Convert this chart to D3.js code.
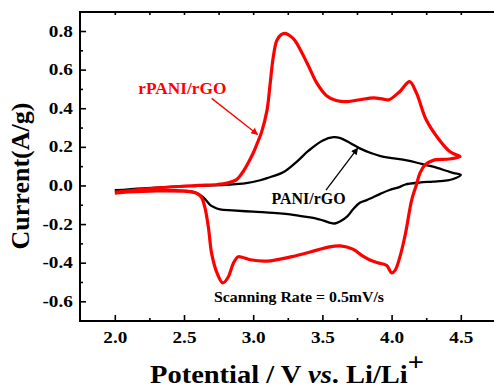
<!DOCTYPE html>
<html>
<head>
<meta charset="utf-8">
<script src="https://cdn.jsdelivr.net/npm/d3@7"></script>
<style>
  body { margin: 0; background: #fff; }
  text { font-family: "Liberation Serif", "Times New Roman", serif; font-weight: bold; }
</style>
</head>
<body>
<div id="chart"></div>
<script>
// rPANI/rGO loop: anodic sweep 2.0 -> 4.5 V, then cathodic back to 2.0 V
const rpaniV = [2.00, 2.20, 2.40, 2.60, 2.74, 2.81, 2.88, 2.93, 2.97, 3.00, 3.03, 3.06, 3.10, 3.12, 3.145, 3.17, 3.20, 3.23, 3.26, 3.30,
                3.39, 3.46, 3.53, 3.60, 3.68, 3.77, 3.87, 3.94, 3.98, 4.06, 4.13, 4.18, 4.25, 4.33, 4.42, 4.47, 4.495,
                4.42, 4.30, 4.24, 4.205, 4.18, 4.145, 4.10, 4.06, 4.025, 4.00, 3.965, 3.90, 3.84, 3.79, 3.72, 3.63, 3.55, 3.46,
                3.27, 3.10, 2.98, 2.92, 2.89, 2.856, 2.82, 2.78, 2.74, 2.70, 2.676, 2.65, 2.625, 2.59, 2.50, 2.30, 2.10, 2.00];
const rpaniI = [-0.036, -0.020, -0.008, 0.000, 0.005, 0.012, 0.030, 0.075, 0.125, 0.168, 0.220, 0.275, 0.390, 0.510, 0.665, 0.750, 0.780, 0.788, 0.778, 0.752,
                0.633, 0.530, 0.465, 0.440, 0.434, 0.444, 0.454, 0.447, 0.444, 0.487, 0.538, 0.478, 0.340, 0.250, 0.176, 0.158, 0.150,
                0.137, 0.130, 0.105, 0.064, 0.005, -0.076, -0.250, -0.370, -0.440, -0.453, -0.415, -0.400, -0.385, -0.365, -0.330, -0.313, -0.318, -0.335,
                -0.370, -0.392, -0.385, -0.372, -0.370, -0.404, -0.474, -0.505, -0.456, -0.353, -0.215, -0.111, -0.060, -0.040, -0.030, -0.028, -0.034, -0.040];

// PANI/rGO loop
const paniV = [2.00, 2.20, 2.40, 2.60, 2.80, 2.95, 3.05, 3.10, 3.22, 3.31, 3.40, 3.50, 3.58, 3.63, 3.70, 3.77, 3.85, 3.92, 4.00, 4.11,
               4.20, 4.30, 4.40, 4.45, 4.50,
               4.44, 4.40, 4.30, 4.20, 4.10, 4.06, 3.98, 3.915, 3.82, 3.77, 3.72, 3.68, 3.63, 3.59, 3.55, 3.507, 3.45, 3.386,
               3.25, 3.145, 3.00, 2.85, 2.76, 2.71, 2.688, 2.64, 2.60, 2.54, 2.40, 2.20, 2.00];
const paniI = [-0.026, -0.015, -0.007, -0.002, 0.003, 0.012, 0.027, 0.038, 0.070, 0.120, 0.180, 0.232, 0.250, 0.245, 0.220, 0.192, 0.168, 0.152, 0.142, 0.130,
               0.115, 0.097, 0.075, 0.064, 0.055,
               0.032, 0.026, 0.020, 0.015, 0.005, -0.007, -0.025, -0.045, -0.076, -0.090, -0.125, -0.160, -0.185, -0.197, -0.192, -0.182, -0.170, -0.163,
               -0.148, -0.142, -0.136, -0.129, -0.124, -0.110, -0.100, -0.062, -0.042, -0.030, -0.025, -0.022, -0.024];

const xTicks = [2.0, 2.5, 3.0, 3.5, 4.0, 4.5];
const xMinorTicks = [2.25, 2.75, 3.25, 3.75, 4.25];
const yTicks = [-0.6, -0.4, -0.2, 0.0, 0.2, 0.4, 0.6, 0.8];
const yMinorTicks = [-0.5, -0.3, -0.1, 0.1, 0.3, 0.5, 0.7];

const W = 494, H = 388;
const svg = d3.select("#chart").append("svg")
    .attr("width", W).attr("height", H);

const x = d3.scaleLinear().domain([1.75, 4.75]).range([80.2, 495.4]);
const y = d3.scaleLinear().domain([-0.7, 0.9]).range([320.6, 11.7]);

// frame (right side runs off the picture)
svg.append("path")
   .attr("d", `M${W + 2},12 H80 V321 H${W + 2}`)
   .attr("fill", "none").attr("stroke", "#000").attr("stroke-width", 2);

const fmt = d => (Math.abs(d) < 1e-9 ? 0 : d).toFixed(1);

// left axis
const yAxis = svg.append("g").attr("transform", "translate(80,0)")
   .call(d3.axisLeft(y).tickValues(yTicks).tickSize(-6).tickPadding(6).tickFormat(fmt));
svg.append("g").attr("transform", "translate(80,0)")
   .call(d3.axisLeft(y).tickValues(yMinorTicks).tickSize(-3).tickFormat(""));

// bottom axis
const xAxis = svg.append("g").attr("transform", "translate(0,321)")
   .call(d3.axisBottom(x).tickValues(xTicks).tickSize(-6).tickPadding(11).tickFormat(d3.format(".1f")));
svg.append("g").attr("transform", "translate(0,321)")
   .call(d3.axisBottom(x).tickValues(xMinorTicks).tickSize(-3).tickFormat(""));

// top ticks
svg.append("g").attr("transform", "translate(0,12)")
   .call(d3.axisTop(x).tickValues(xTicks.concat(xMinorTicks)).tickSize(-3).tickFormat(""));

svg.selectAll(".domain").remove();
svg.selectAll(".tick line").attr("stroke", "#000").attr("stroke-width", 1.6);
[yAxis, xAxis].forEach(a => {
  a.attr("font-family", "Liberation Serif").attr("font-size", 16).attr("font-weight", "bold");
  a.selectAll("text")
   .attr("fill", "#000")
   .attr("transform", "scale(1.2,1)");
});

// curves
const line = d3.line()
   .x(d => x(d[0])).y(d => y(d[1]))
   .curve(d3.curveCatmullRom.alpha(0.5));

svg.append("path")
   .datum(d3.zip(paniV, paniI))
   .attr("fill", "none").attr("stroke", "#000").attr("stroke-width", 2.3)
   .attr("stroke-linejoin", "round")
   .attr("d", line);

svg.append("path")
   .datum(d3.zip(rpaniV, rpaniI))
   .attr("fill", "none").attr("stroke", "#ff0000").attr("stroke-width", 3.2)
   .attr("stroke-linejoin", "round")
   .attr("d", line);

// arrow markers
const defs = svg.append("defs");
[["arrRed", "#ff0000"], ["arrBlack", "#000"]].forEach(([id, c]) => {
  defs.append("marker").attr("id", id)
     .attr("viewBox", "0 0 10 10").attr("refX", 9).attr("refY", 5)
     .attr("markerWidth", 9).attr("markerHeight", 7)
     .attr("markerUnits", "userSpaceOnUse")
     .attr("orient", "auto")
     .append("path").attr("d", "M0,0 L10,5 L0,10 Z").attr("fill", c);
});

svg.append("line")
   .attr("x1", x(2.70)).attr("y1", y(0.451)).attr("x2", x(3.032)).attr("y2", y(0.264))
   .attr("stroke", "#ff0000").attr("stroke-width", 1.3).attr("marker-end", "url(#arrRed)");
svg.append("line")
   .attr("x1", x(3.526)).attr("y1", y(-0.024)).attr("x2", x(3.755)).attr("y2", y(0.193))
   .attr("stroke", "#000").attr("stroke-width", 1.3).attr("marker-end", "url(#arrBlack)");

// labels
svg.append("text")
   .attr("x", x(2.488)).attr("y", y(0.472))
   .attr("text-anchor", "middle").attr("fill", "#ff0000")
   .style("font-size", "16px")
   .attr("textLength", 88).attr("lengthAdjust", "spacingAndGlyphs")
   .text("rPANI/rGO");

svg.append("text")
   .attr("x", x(3.40)).attr("y", y(-0.097))
   .attr("text-anchor", "middle").attr("fill", "#000")
   .style("font-size", "16px")
   .attr("textLength", 74).attr("lengthAdjust", "spacingAndGlyphs")
   .text("PANI/rGO");

svg.append("text")
   .attr("x", x(3.331)).attr("y", y(-0.604))
   .attr("text-anchor", "middle").attr("fill", "#000")
   .style("font-size", "15px")
   .attr("textLength", 170).attr("lengthAdjust", "spacingAndGlyphs")
   .text("Scanning Rate = 0.5mV/s");

// axis titles
svg.append("text")
   .attr("transform", "translate(29,176) rotate(-90)")
   .attr("text-anchor", "middle")
   .style("font-size", "26px")
   .text("Current(A/g)");

const xt = svg.append("g").attr("transform", "translate(150,383) scale(1.14,1)")
   .append("text").attr("x", 0).attr("y", 0)
   .style("font-size", "25px");
xt.append("tspan").text("Potential / V ");
xt.append("tspan").style("font-style", "italic").text("vs");
xt.append("tspan").text(". Li/Li");
xt.append("tspan").attr("dy", -12).text("+");
</script>
</body>
</html>
